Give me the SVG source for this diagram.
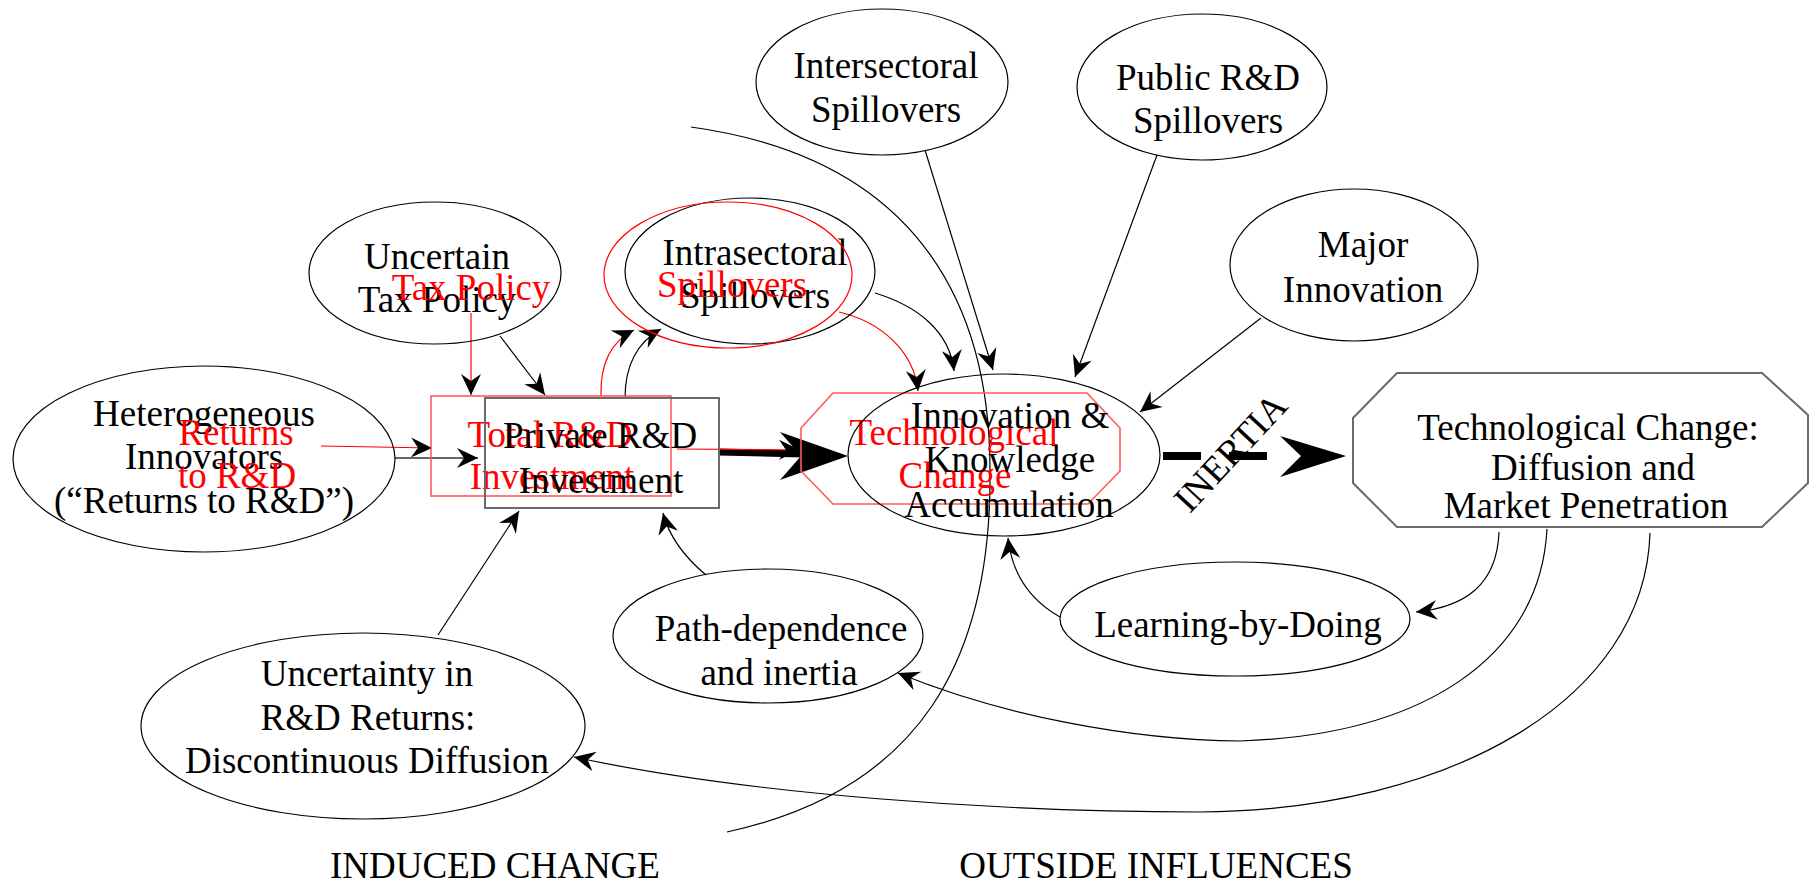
<svg xmlns="http://www.w3.org/2000/svg" width="1815" height="885" viewBox="0 0 1815 885">
<defs>
<marker id="ah" viewBox="-22 -11 24 22" refX="0" refY="0" markerWidth="24" markerHeight="22" markerUnits="userSpaceOnUse" orient="auto">
<path d="M0,0 L-21,-10 L-14,0 L-21,10 Z" fill="#000"/>
</marker>
</defs>
<style>
text{font-family:"Liberation Serif","Times New Roman",serif;font-size:37px;text-anchor:middle;fill:#000}
text.r{fill:#ff0000}
.n{fill:none;stroke:#000;stroke-width:1.2}
.rn{fill:none;stroke:#ff0000;stroke-width:1.2}
.rb{fill:none;stroke:#ff5a5a;stroke-width:1.6}
.gb{fill:none;stroke:#6a6a6a;stroke-width:2}
.c{fill:none;stroke:#000;stroke-width:1.2}
.cr{fill:none;stroke:#ff0000;stroke-width:1.2}
.a{marker-end:url(#ah)}
</style>
<rect width="1815" height="885" fill="#fff"/>

<g id="connectors">
<path class="cr a" d="M471,313 L471,395"/>
<path class="c a" d="M500,336 L545,395"/>
<path class="cr a" d="M321,446 L432,448"/>
<path class="a" d="M395,458 L478,458" fill="none" stroke="#666" stroke-width="2"/>
<path class="cr a" d="M601,396 C600,362 612,341 634,330"/>
<path class="c a" d="M625,398 C625,364 638,342 661,329"/>
<path class="c a" d="M438,635 L519,511"/>
<path class="c a" d="M706,575 C688,560 670,540 663,513"/>
<path d="M719,452 L803,454" stroke="#000" stroke-width="7" fill="none"/>
<path class="cr a" d="M677,449 L800,450"/>
<polygon points="780,432 848,456 780,480 801,456" fill="#000"/>
<path class="cr a" d="M839,312 C882,322 914,352 918,391"/>
<path class="c a" d="M875,293 C918,306 950,332 954,371"/>
<path class="c a" d="M925,150 L993,370"/>
<path class="c a" d="M1157,155 L1075,377"/>
<path class="c a" d="M1261,318 L1140,412"/>
<path class="c" d="M691,127 C930,160 990,320 990,470 C992,660 920,790 727,832"/>
<path class="c a" d="M1060,617 C1030,600 1012,575 1008,538"/>
<path d="M1163,456 L1272,456" stroke="#000" stroke-width="8" stroke-dasharray="38 28" fill="none"/>
<polygon points="1280,436 1346,456 1280,477 1301,456" fill="#000"/>
<path class="c a" d="M1499,532 C1497,585 1465,607 1416,612"/>
<path class="c a" d="M1547,529 C1540,660 1420,735 1240,741 C1130,740 1000,715 898,673"/>
<path class="c a" d="M1650,533 C1645,700 1450,810 1200,812 C1000,812 750,795 574,757"/>
</g>

<g id="node-intersectoral">
<ellipse class="n" cx="882" cy="82" rx="126" ry="73"/>
<text x="886" y="78">Intersectoral</text>
<text x="886" y="122">Spillovers</text>
</g>

<g id="node-public">
<ellipse class="n" cx="1202" cy="87" rx="125" ry="73"/>
<text x="1208" y="90">Public R&amp;D</text>
<text x="1208" y="133">Spillovers</text>
</g>

<g id="node-major">
<ellipse class="n" cx="1354" cy="265" rx="124" ry="76"/>
<text x="1363" y="257">Major</text>
<text x="1363" y="302">Innovation</text>
</g>

<g id="node-tax">
<ellipse class="n" cx="435" cy="273" rx="126" ry="71"/>
<text x="437" y="269">Uncertain</text>
<text x="437" y="312">Tax Policy</text>
<text class="r" x="471" y="300">Tax Policy</text>
</g>

<g id="node-heterogeneous">
<ellipse class="n" cx="204" cy="459" rx="191" ry="93"/>
<text x="204" y="426">Heterogeneous</text>
<text x="204" y="469">Innovators</text>
<text x="204" y="513">(“Returns to R&amp;D”)</text>
<text class="r" x="236" y="445">Returns</text>
<text class="r" x="237" y="488">to R&amp;D</text>
</g>

<g id="node-total-rd">
<rect class="rb" x="431" y="396" width="240" height="100"/>
<text class="r" x="550" y="447">Total R&amp;D</text>
<text class="r" x="552" y="489">Investment</text>
</g>

<g id="node-private-rd">
<rect class="gb" x="485" y="398" width="234" height="110"/>
<text x="600" y="448">Private R&amp;D</text>
<text x="601" y="493">Investment</text>
</g>

<g id="node-intrasectoral">
<ellipse class="n" cx="750" cy="271" rx="125" ry="73"/>
<text x="755" y="265">Intrasectoral</text>
<text x="755" y="308">Spillovers</text>
</g>

<g id="node-spillovers-red">
<ellipse class="rn" cx="728" cy="275" rx="124" ry="73"/>
<text class="r" x="732" y="297">Spillovers</text>
</g>

<g id="node-tech-red">
<polygon class="rb" points="833,393 1087,393 1120,428 1120,471 1088,504 833,504 801,471 801,428"/>
<text class="r" x="954" y="445">Technological</text>
<text class="r" x="955" y="488">Change</text>
</g>

<g id="node-innovation">
<ellipse class="n" cx="1004" cy="455" rx="156" ry="81"/>
<text x="1010" y="428">Innovation &amp;</text>
<text x="1010" y="472">Knowledge</text>
<text x="1009" y="517">Accumulation</text>
</g>

<g id="label-inertia">
<text transform="translate(1230,452) rotate(-47)" x="0" y="13" font-size="38">INERTIA</text>
</g>

<g id="node-techchange">
<polygon class="gb" points="1397,373 1762,373 1808,415 1808,483 1762,527 1397,527 1353,483 1353,418"/>
<text x="1588" y="440">Technological Change:</text>
<text x="1593" y="480">Diffusion and</text>
<text x="1586" y="518">Market Penetration</text>
</g>

<g id="node-learning">
<ellipse class="n" cx="1235" cy="619" rx="175" ry="57"/>
<text x="1238" y="637">Learning-by-Doing</text>
</g>

<g id="node-path">
<ellipse class="n" cx="768" cy="636" rx="155" ry="67"/>
<text x="781" y="641">Path-dependence</text>
<text x="779" y="685">and inertia</text>
</g>

<g id="node-uncertainty">
<ellipse class="n" cx="363" cy="726" rx="222" ry="93"/>
<text x="367" y="686">Uncertainty in</text>
<text x="368" y="730">R&amp;D Returns:</text>
<text x="367" y="773">Discontinuous Diffusion</text>
</g>

<g id="labels">
<text x="495" y="878">INDUCED CHANGE</text>
<text x="1156" y="878">OUTSIDE INFLUENCES</text>
</g>
</svg>
